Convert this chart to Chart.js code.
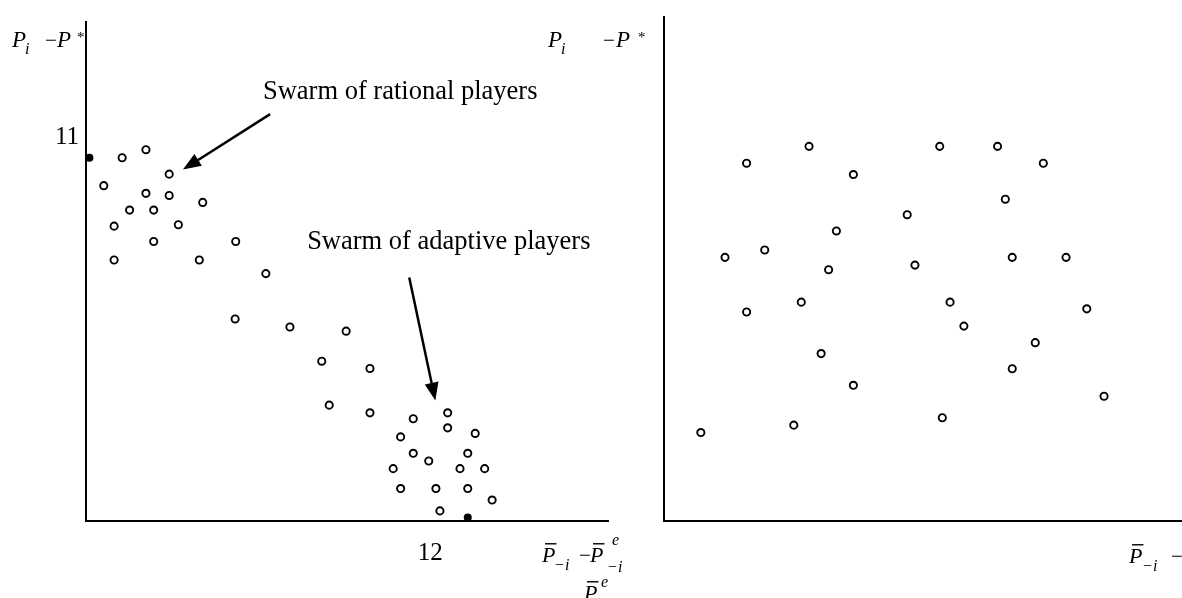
<!DOCTYPE html>
<html>
<head>
<meta charset="utf-8">
<script src="https://cdn.jsdelivr.net/npm/chart.js@4.4.1/dist/chart.umd.min.js"></script>
<style>
  body { margin: 0; background: #fff; width: 1182px; height: 598px; overflow: hidden; position: relative; }
  canvas { position: absolute; top: 0; }
  #left { left: 0; }
  #right { left: 520px; }
</style>
</head>
<body>
<canvas id="left" width="660" height="598"></canvas>
<canvas id="right" width="676" height="598"></canvas>
<script>
// left panel: players (open circles)
const leftX = [1.26, 2.09, 2.90, 0.62, 2.09, 2.90, 4.07, 1.52, 2.36, 0.98, 3.22, 2.36, 5.22, 0.98, 3.95, 6.27,
  5.20, 7.11, 9.07, 8.22, 9.90, 8.48, 9.90, 11.41, 12.61, 12.61, 10.97, 13.57, 11.41, 13.31, 11.95,
  10.71, 13.04, 13.90, 10.97, 12.20, 13.31, 14.16, 12.34];
const leftY = [10.41, 10.64, 9.94, 9.61, 9.39, 9.33, 9.13, 8.91, 8.91, 8.45, 8.49, 8.01, 8.01, 7.48, 7.48, 7.09,
  5.79, 5.56, 5.44, 4.58, 4.37, 3.32, 3.10, 2.93, 3.10, 2.67, 2.41, 2.51, 1.94, 1.94, 1.72,
  1.50, 1.50, 1.50, 0.93, 0.93, 0.93, 0.60, 0.29];
// left panel: the two black dots on the axes
const eqX = [0.12, 13.31];
const eqY = [10.41, 0.10];
// right panel: scattered players
const rightX = [2.87, 5.04, 6.58, 8.45, 5.99, 2.12, 3.50, 5.72, 8.72, 4.77, 2.87, 5.46, 6.58, 4.51, 1.28,
  9.58, 11.59, 13.18, 11.86, 12.10, 13.97, 9.94, 14.69, 10.42, 12.90, 12.10, 15.29, 9.67];
const rightY = [10.15, 10.63, 9.83, 8.69, 8.23, 7.48, 7.69, 7.13, 7.26, 6.21, 5.93, 4.75, 3.85, 2.72, 2.51,
  10.63, 10.63, 10.15, 9.13, 7.48, 7.48, 6.21, 6.02, 5.53, 5.06, 4.32, 3.54, 2.93];
const xTick = 12;
const yTick = 11;
const swarmLabels = ["Swarm of rational players", "Swarm of adaptive players"];

const notes = [
  { text: swarmLabels[0], x: 6.17, y: 12.09, from: [6.42, 11.66], to: [3.38, 10.07] },
  { text: swarmLabels[1], x: 7.71, y: 7.80, from: [11.27, 6.98], to: [12.18, 3.45] }
];

const serif = '"Liberation Serif", "Times New Roman", serif';

function toPoints(xs, ys) {
  return xs.map((x, i) => ({ x: x, y: ys[i] }));
}

function arrow(ctx, x1, y1, x2, y2) {
  const a = Math.atan2(y2 - y1, x2 - x1);
  const L = 18, W = 7;
  const bx = x2 - L * Math.cos(a), by = y2 - L * Math.sin(a);
  ctx.lineWidth = 2.5;
  ctx.beginPath();
  ctx.moveTo(x1, y1);
  ctx.lineTo(bx, by);
  ctx.stroke();
  ctx.beginPath();
  ctx.moveTo(x2, y2);
  ctx.lineTo(bx - W * Math.sin(a), by + W * Math.cos(a));
  ctx.lineTo(bx + W * Math.sin(a), by - W * Math.cos(a));
  ctx.closePath();
  ctx.fill();
}

// parts: [text, x, baseline, size, italic, bar]
function mathText(ctx, off, parts) {
  parts.forEach((p) => {
    ctx.font = (p[4] ? "italic " : "") + p[3] + "px " + serif;
    ctx.fillText(p[0], p[1] - off, p[2]);
    if (p[5]) {
      const w = ctx.measureText(p[0]).width;
      ctx.fillRect(p[1] - off + 3, p[2] - p[3] * 0.86, w - 2, 1.4);
    }
  });
}

function options(xMax, yMax, axisW, rightPad, ticks) {
  return {
    responsive: false,
    devicePixelRatio: 1,
    animation: false,
    layout: { padding: { top: 17, right: rightPad, left: 0, bottom: 0 } },
    plugins: { legend: { display: false }, tooltip: { enabled: false } },
    scales: {
      x: {
        type: "linear", min: 0, max: xMax,
        grid: { display: false, drawTicks: false },
        border: { color: "#000", width: 2 },
        ticks: { display: ticks, color: "#000", padding: 17, font: { family: serif, size: 25 } },
        afterBuildTicks: (s) => { s.ticks = ticks ? [{ value: xTick }] : []; },
        afterFit: (s) => { s.height = 77; }
      },
      y: {
        type: "linear", min: 0, max: yMax,
        grid: { display: false, drawTicks: false },
        border: { color: "#000", width: 2 },
        ticks: { display: ticks, color: "#000", padding: 7, font: { family: serif, size: 25 } },
        afterBuildTicks: (s) => { s.ticks = ticks ? [{ value: yTick }] : []; },
        afterFit: (s) => { s.width = axisW; }
      }
    }
  };
}

function openSet(xs, ys) {
  return {
    data: toPoints(xs, ys),
    pointRadius: 3.6,
    pointBorderWidth: 1.9,
    pointBackgroundColor: "#fff",
    pointBorderColor: "#000",
    clip: false
  };
}

const leftNotes = {
  id: "leftNotes",
  afterDraw(chart) {
    const ctx = chart.ctx;
    const sx = chart.scales.x, sy = chart.scales.y;
    ctx.save();
    ctx.fillStyle = "#000";
    ctx.strokeStyle = "#000";
    ctx.textBaseline = "alphabetic";
    ctx.textAlign = "left";
    notes.forEach((n) => {
      ctx.font = "26.5px " + serif;
      ctx.fillText(n.text, sx.getPixelForValue(n.x), sy.getPixelForValue(n.y));
      arrow(ctx, sx.getPixelForValue(n.from[0]), sy.getPixelForValue(n.from[1]),
        sx.getPixelForValue(n.to[0]), sy.getPixelForValue(n.to[1]));
    });
    mathText(ctx, 0, [
      ["P", 12, 47, 23, true], ["i", 25, 54, 16, true], ["\u2212", 45, 47, 21, false],
      ["P", 57, 47, 23, true], ["*", 77, 42, 15, false]
    ]);
    mathText(ctx, 0, [
      ["P", 542, 562, 22, true, true], ["\u2212", 555, 570, 16, false], ["i", 565, 570, 16, true],
      ["\u2212", 579, 562, 21, false], ["P", 590, 562, 22, true, true], ["e", 612, 545, 16, true],
      ["\u2212", 608, 572, 16, false], ["i", 618, 572, 16, true],
      ["P", 584, 600, 22, true, true], ["e", 601, 587, 16, true]
    ]);
    ctx.restore();
  }
};

const rightNotes = {
  id: "rightNotes",
  afterDraw(chart) {
    const ctx = chart.ctx;
    ctx.save();
    ctx.fillStyle = "#000";
    ctx.textBaseline = "alphabetic";
    ctx.textAlign = "left";
    mathText(ctx, 520, [
      ["P", 548, 47, 23, true], ["i", 561, 54, 16, true], ["\u2212", 603, 47, 21, false],
      ["P", 616, 47, 23, true], ["*", 638, 42, 15, false]
    ]);
    mathText(ctx, 520, [
      ["P", 1129, 563, 22, true, true], ["\u2212", 1143, 571, 16, false], ["i", 1153, 571, 16, true],
      ["\u2212", 1171, 563, 21, false]
    ]);
    ctx.restore();
  }
};

new Chart(document.getElementById("left"), {
  type: "scatter",
  data: {
    datasets: [
      openSet(leftX, leftY),
      {
        data: toPoints(eqX, eqY),
        pointRadius: 4,
        pointBorderWidth: 0,
        pointBackgroundColor: "#000",
        clip: false
      }
    ]
  },
  options: options(18.2, 14.3, 86, 52, true),
  plugins: [leftNotes]
});

new Chart(document.getElementById("right"), {
  type: "scatter",
  data: { datasets: [openSet(rightX, rightY)] },
  options: options(18.28, 14.3, 144, 0, false),
  plugins: [rightNotes]
});
</script>
</body>
</html>
